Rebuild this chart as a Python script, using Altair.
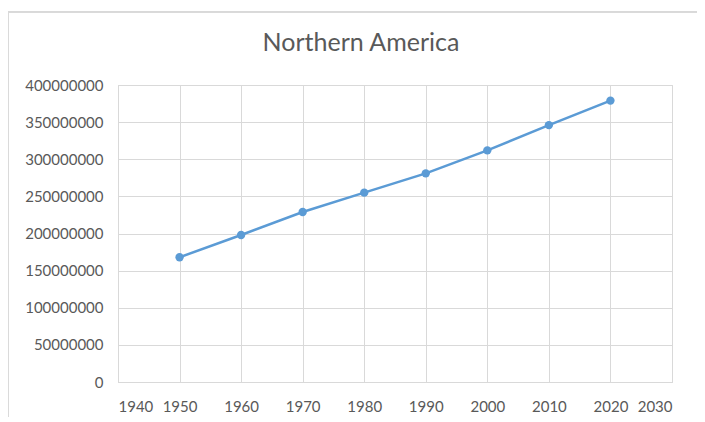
import altair as alt
import pandas as pd

years = [1950, 1960, 1970, 1980, 1990, 2000, 2010, 2020]
population = [168000000, 198000000, 229000000, 255000000, 281000000, 312000000, 346000000, 379000000]
x_ticks = [1940, 1950, 1960, 1970, 1980, 1990, 2000, 2010, 2020, 2030]
y_ticks = [0, 50000000, 100000000, 150000000, 200000000, 250000000, 300000000, 350000000, 400000000]

df = pd.DataFrame({"year": years, "pop": population})

FONT = "Lato"
GREY = "#595959"
BLUE = "#5b9bd5"

x = alt.X("year:Q", scale=alt.Scale(domain=[1940, 2030], nice=False, zero=False),
          axis=alt.Axis(values=x_ticks, format="d", title=None, grid=True,
                        gridColor="#d9d9d9", domainColor="#d9d9d9", ticks=False,
                        labelPadding=17, labelFontSize=15, labelColor=GREY, labelFont=FONT))
y = alt.Y("pop:Q", scale=alt.Scale(domain=[0, 400000000], nice=False),
          axis=alt.Axis(values=y_ticks, format="d", title=None, grid=True,
                        gridColor="#d9d9d9", domainColor="#d9d9d9", ticks=False,
                        labelPadding=15, labelFontSize=15, labelColor=GREY, labelFont=FONT))

line = alt.Chart(df).mark_line(color=BLUE, strokeWidth=2.5).encode(x=x, y=y)
pts = alt.Chart(df).mark_point(color=BLUE, filled=True, size=70, opacity=1).encode(x=x, y=y)

border_top = alt.Chart(df).mark_rule(color="#d9d9d9", strokeWidth=1).encode(
    x=alt.value(-110), x2=alt.value(620), y=alt.value(-73))
border_left = alt.Chart(df).mark_rule(color="#d9d9d9", strokeWidth=1).encode(
    x=alt.value(-110), y=alt.value(-73), y2=alt.value(340))

chart = alt.layer(border_top, border_left, line, pts).properties(
    width=554, height=297,
    padding={"left": 110, "top": 77, "right": 25, "bottom": 35},
    autosize=alt.AutoSizeParams(type="none"),
    title=alt.TitleParams("Northern America", font=FONT, fontSize=25, fontWeight="normal",
                          color=GREY, anchor="middle", dx=-34, offset=-44),
).configure_view(stroke="#d9d9d9")

chart.save("out.html", embed_options={"renderer": "svg", "actions": False})
